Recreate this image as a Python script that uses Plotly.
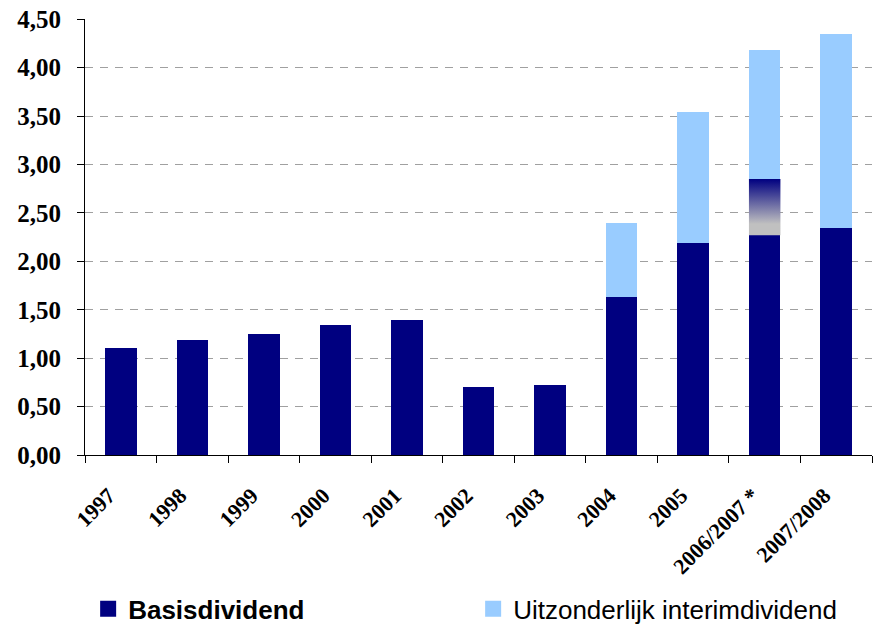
import plotly.graph_objects as go

categories = ["1997", "1998", "1999", "2000", "2001", "2002", "2003", "2004", "2005", "2006/2007 *", "2007/2008"]
basis = [1.11, 1.19, 1.25, 1.34, 1.39, 0.70, 0.72, 1.63, 2.19, 2.27, 2.34]
gradient_part = [0, 0, 0, 0, 0, 0, 0, 0, 0, 0.58, 0]
interim = [0, 0, 0, 0, 0, 0, 0, 0.77, 1.35, 1.33, 2.01]
y_ticks = [0, 0.5, 1.0, 1.5, 2.0, 2.5, 3.0, 3.5, 4.0, 4.5]
y_ticklabels = ["0,00", "0,50", "1,00", "1,50", "2,00", "2,50", "3,00", "3,50", "4,00", "4,50"]

NAVY = "#000080"
LIGHT = "#99CCFF"
GREY = "#C0C0C0"
BAR_W = 0.44

fig = go.Figure()
fig.add_trace(go.Bar(x=categories, y=basis, name="Basisdividend", showlegend=False,
                     marker=dict(color=NAVY, line=dict(width=0)), width=BAR_W))
fig.add_trace(go.Bar(x=categories, y=gradient_part, name="grad", showlegend=False,
                     marker=dict(color=GREY, line=dict(width=0)), width=BAR_W))
fig.add_trace(go.Bar(x=categories, y=interim, name="Uitzonderlijk interimdividend",
                     showlegend=False,
                     marker=dict(color=LIGHT, line=dict(width=0)), width=BAR_W))

# gradient overlay for the segment(s) in gradient_part
for i, g in enumerate(gradient_part):
    if g > 0:
        y0 = basis[i]
        y1 = basis[i] + g
        xs = [i - BAR_W / 2, i + BAR_W / 2, i + BAR_W / 2, i - BAR_W / 2, i - BAR_W / 2]
        ys = [y0, y0, y1, y1, y0]
        fig.add_trace(go.Scatter(
            x=xs, y=ys, xaxis="x2", mode="lines", line=dict(width=0),
            fill="toself",
            fillgradient=dict(type="vertical",
                              colorscale=[[0, GREY], [0.2, GREY], [1, NAVY]]),
            showlegend=False, hoverinfo="skip"))

# legend entries (larger square symbols)
for nm, col in [("<b>Basisdividend</b>", NAVY), ("Uitzonderlijk interimdividend", LIGHT)]:
    fig.add_trace(go.Scatter(x=[None], y=[None], mode="markers", name=nm,
                             marker=dict(symbol="square", size=16, color=col,
                                         line=dict(width=0))))

fig.update_layout(
    barmode="stack",
    width=877, height=619,
    margin=dict(l=77, r=13, t=11, b=172, autoexpand=False),
    plot_bgcolor="white", paper_bgcolor="white",
    showlegend=True,
    legend=dict(orientation="h", x=0.004, y=-0.353, xanchor="left", yanchor="middle",
                font=dict(family="Liberation Sans, Arial", size=26, color="black"),
                entrywidth=340, entrywidthmode="pixels", traceorder="normal",
                itemsizing="trace"),
    xaxis=dict(type="category", range=[-0.5, 10.5], showline=True, linecolor="black",
               linewidth=1, ticks="outside", tickson="boundaries", ticklen=7,
               tickcolor="black", tickangle=-45, showgrid=False, automargin=False,
               ticklabelstandoff=18, ticklabelshift=-12,
               tickfont=dict(family="Liberation Serif, Times New Roman", size=22,
                             color="black", weight="bold")),
    xaxis2=dict(overlaying="x", range=[-0.5, 10.5], visible=False, anchor="y"),
    yaxis=dict(range=[0, 4.503], tickvals=y_ticks, ticktext=y_ticklabels,
               showline=True, linecolor="black", linewidth=1, ticks="outside",
               ticklen=7, tickcolor="black", ticklabelstandoff=11, automargin=False,
               ticklabeloverflow="allow",
               showgrid=True, gridcolor="#A0A0A0", griddash="8px,7px", gridwidth=1,
               zeroline=False,
               tickfont=dict(family="Liberation Serif, Times New Roman", size=25,
                             color="black", weight="bold")),
)

fig.write_html("out.html")
